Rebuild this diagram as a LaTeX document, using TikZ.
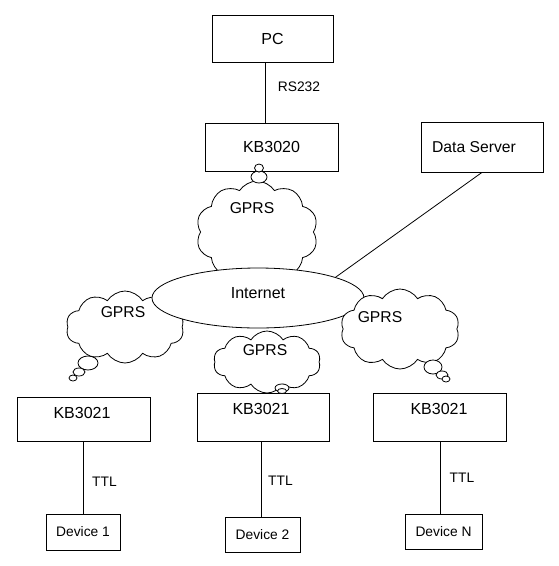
\documentclass[tikz,border=0pt]{standalone}
\usepackage{fontspec}
\setmainfont{Liberation Sans}
\usetikzlibrary{shapes.symbols,shapes.geometric}
\begin{document}
\begin{tikzpicture}[x=1pt,y=-1pt,
  line width=0.8pt,
  box/.style={draw,fill=white,rectangle,inner sep=0pt},
  big/.style={font=\fontsize{16}{19}\selectfont},
  mid/.style={font=\fontsize{15.7}{18}\selectfont},
  sml/.style={font=\fontsize{13.8}{16}\selectfont},
  lbl/.style={inner sep=0pt},
  cloudy/.style={draw,fill=white,cloud,cloud puffs=10,cloud puff arc=115,aspect=1.5,inner sep=0pt},
  bub/.style={draw,fill=white}]
\useasboundingbox (0,0) rectangle (558,566);

% left cloud
\node[cloudy,minimum width=118pt,minimum height=72pt] (c1) at (125,327) {};
\draw[bub] (88,363) ellipse [x radius=10pt,y radius=7pt];
\draw[bub] (79,372) ellipse [x radius=6pt,y radius=4pt];
\draw[bub] (73,378) ellipse [x radius=4pt,y radius=3pt];

% top cloud
\node[cloudy,minimum width=122pt,minimum height=102pt] (c0) at (257,232) {};
\draw[bub] (259,177) ellipse [x radius=8pt,y radius=6pt];
\draw[bub] (259,168) ellipse [x radius=4.5pt,y radius=4pt];

% internet
\node[draw,fill=white,ellipse,minimum width=212pt,minimum height=60pt,inner sep=0pt] (inet) at (258,298) {};
\node[lbl,big] (inett) at (258,293) {Internet};

% right cloud
\node[cloudy,minimum width=119pt,minimum height=80pt] (c2) at (400,329) {};
\draw[bub] (433,367) ellipse [x radius=9pt,y radius=7pt];
\draw[bub] (442,375) ellipse [x radius=6pt,y radius=4pt];
\draw[bub] (446,379) ellipse [x radius=4pt,y radius=3pt];

% middle cloud
\node[cloudy,minimum width=107pt,minimum height=62pt] (c3) at (267,362) {};

% cloud labels
\node[lbl,mid] (g0) at (252,208) {GPRS};
\node[lbl,mid] (g1) at (123,312) {GPRS};
\node[lbl,mid] (g2) at (380,317) {GPRS};
\node[lbl,mid] (g3) at (265,350) {GPRS};

% boxes
\node[box,big,minimum width=121pt,minimum height=47pt] (pc) at (272.5,38.5) {PC};
\node[box,big,minimum width=133pt,minimum height=48pt] (kb0) at (271.5,147) {KB3020};
\node[box,minimum width=122pt,minimum height=50pt] (ds) at (482,147) {};
\node[lbl,mid] (dst) at (474,147) {Data Server};

\node[box,minimum width=133pt,minimum height=44pt] (k1) at (83.5,419) {};
\node[box,minimum width=132pt,minimum height=48pt] (k2) at (263,417) {};
\node[box,minimum width=133pt,minimum height=48pt] (k3) at (439.5,417) {};
\node[lbl,big] (k1t) at (82,413) {KB3021};
\node[lbl,big] (k2t) at (261,409) {KB3021};
\node[lbl,big] (k3t) at (439,409) {KB3021};

\node[box,sml,minimum width=74pt,minimum height=36pt] (d1) at (83,532) {Device 1};
\node[box,sml,minimum width=75pt,minimum height=35pt] (d2) at (262.5,534.5) {Device 2};
\node[box,sml,minimum width=77pt,minimum height=35pt] (dn) at (443.5,531.5) {Device N};

% top tail over the KB3020 box edge
\draw[bub] (259,168) ellipse [x radius=4.5pt,y radius=4pt];
% middle tail on KB3021 box
\draw[bub] (282,388) ellipse [x radius=7pt,y radius=4pt];
\draw[bub] (282,391) ellipse [x radius=4.5pt,y radius=2.5pt];

% connectors
\draw ([xshift=-7.5pt]pc.south) -- ([xshift=-6.5pt]kb0.north);
\node[lbl,sml] (rs) at (299,87) {RS232};
\draw (ds.south) -- (inet.15);
\draw ([xshift=-0.5pt]k1.south) -- (d1.north);
\draw ([xshift=-2pt]k2.south) -- ([xshift=-1.5pt]d2.north);
\draw ([xshift=0.5pt]k3.south) -- ([xshift=-3.5pt]dn.north);
\node[lbl,sml] (t1) at (104.5,482) {TTL};
\node[lbl,sml] (t2) at (280.5,481) {TTL};
\node[lbl,sml] (t3) at (462,478) {TTL};
\end{tikzpicture}
\end{document}
